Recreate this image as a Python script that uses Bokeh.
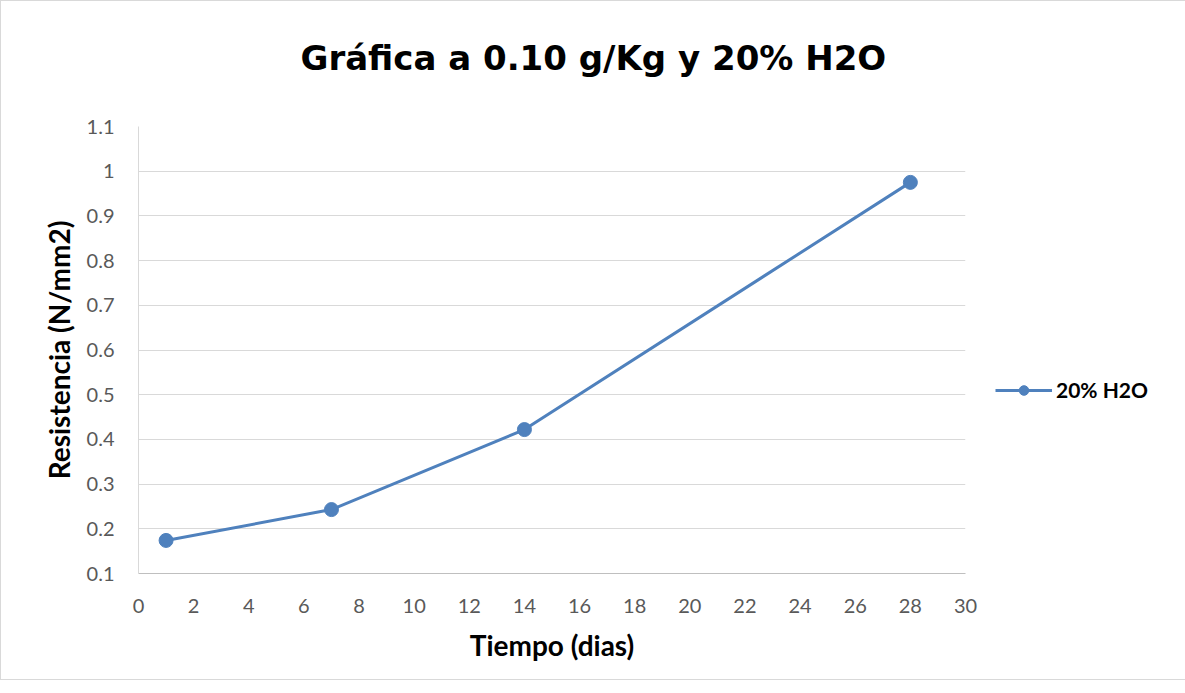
from bokeh.plotting import figure
from bokeh.models import (Range1d, FixedTicker, CustomJSTickFormatter, Legend, LegendItem, Title)
from bokeh.embed import file_html
from bokeh.resources import INLINE

# Data
dias = [1, 7, 14, 28]
resistencia = [0.174, 0.243, 0.422, 0.975]
serie = "20% H2O"
titulo = "Gráfica a 0.10 g/Kg y 20% H2O"
x_ticks = list(range(0, 31, 2))
y_ticks = [0.1, 0.2, 0.3, 0.4, 0.5, 0.6, 0.7, 0.8, 0.9, 1.0, 1.1]

BLUE = "#4f81bd"

p = figure(frame_width=827, frame_height=447, output_backend="svg", toolbar_location=None,
           x_range=Range1d(0, 30), y_range=Range1d(0.1, 1.1),
           min_border_left=137, min_border_right=210, min_border_top=125,
           min_border_bottom=106)
p.outline_line_color = None
p.styles = {"border": "1px solid #d9d9d9"}

p.title.text = titulo
p.title.align = "left"
p.title.text_font = "DejaVu Sans"
p.title.text_font_size = "34px"
p.title.text_font_style = "bold"
p.title.text_color = "#000000"
p.title.standoff = 0
p.title.offset = 162

# empty spacer between the plot area and the title
spacer = Title(text=" ", text_font_size="1px", standoff=46)
p.add_layout(spacer, "above")

r_line = p.line(dias, resistencia, line_color=BLUE, line_width=3)
r_pts = p.scatter(dias, resistencia, size=14, fill_color=BLUE, line_color=BLUE)

# axes
p.xaxis.ticker = FixedTicker(ticks=x_ticks)
p.yaxis.ticker = FixedTicker(ticks=y_ticks)
p.yaxis.formatter = CustomJSTickFormatter(code="return tick.toFixed(1).replace(/\\.0$/, '');")
for ax in (p.xaxis, p.yaxis):
    ax.major_tick_line_color = None
    ax.minor_tick_line_color = None
    ax.major_tick_out = 0
    ax.major_tick_in = 0
    ax.major_label_text_font = "Lato"
    ax.major_label_text_font_size = "20px"
    ax.major_label_text_color = "#595959"
    ax.axis_label_text_font = "Lato"
    ax.axis_label_text_font_size = "28px"
    ax.axis_label_text_font_style = "bold"
    ax.axis_label_text_color = "#000000"
p.xaxis.axis_line_color = "#bfbfbf"
p.yaxis.axis_line_color = "#d9d9d9"
p.xaxis.major_label_standoff = 25
p.yaxis.major_label_standoff = 24
p.xaxis.axis_label = "Tiempo (dias)"
p.yaxis.axis_label = "Resistencia (N/mm2)"
p.xaxis.axis_label_standoff = 12
p.yaxis.axis_label_standoff = 8

p.xgrid.grid_line_color = None
p.ygrid.grid_line_color = "#d9d9d9"
p.ygrid.grid_line_width = 1
p.ygrid.ticker = FixedTicker(ticks=y_ticks)

legend = Legend(items=[LegendItem(label=serie, renderers=[r_line, r_pts])],
                location=(30, 171), orientation="vertical")
legend.border_line_color = None
legend.background_fill_alpha = 0
legend.label_text_font = "Lato"
legend.label_text_font_size = "21px"
legend.label_text_font_style = "bold"
legend.label_text_color = "#000000"
legend.glyph_width = 57
legend.glyph_height = 24
legend.label_standoff = 4
legend.padding = 0
legend.margin = 0
p.add_layout(legend, "right")

open("out.html", "w").write(file_html(p, INLINE))
